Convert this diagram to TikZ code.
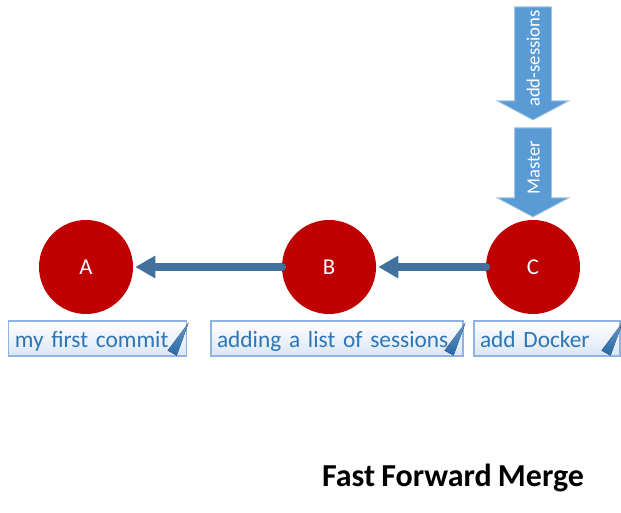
\documentclass[tikz,border=0pt]{standalone}
\usepackage{fontspec}
\setmainfont[WordSpace=0.85]{Carlito}
\usetikzlibrary{shapes.arrows, arrows.meta, positioning, calc}
\definecolor{commitred}{HTML}{C00000}
\definecolor{linkblue}{HTML}{41719C}
\definecolor{tagblue}{HTML}{5B9BD5}
\definecolor{tagedge}{HTML}{9DC3E6}
\definecolor{notetext}{HTML}{2E75B6}
\definecolor{noteedge}{HTML}{8EB4E3}
\definecolor{notefill}{HTML}{DAE6F4}

\begin{document}
\begin{tikzpicture}[
    x=0.75pt, y=-0.75pt,
    commit/.style={circle, fill=commitred, text=white, minimum size=70.5pt, inner sep=0pt, font=\fontsize{17}{20}\selectfont},
    link/.style={-{Triangle[length=15pt, width=16pt]}, line width=6.5pt, draw=linkblue, line cap=round, shorten >=1.5pt},
    note/.style={draw=noteedge, line width=0.8pt, top color=white, bottom color=notefill, text=notetext, align=left, minimum height=26.25pt, text height=15pt, text depth=0.8pt, inner xsep=4.5pt, inner ysep=0pt, font=\fontsize{17.5}{20}\selectfont},
    tag/.style={single arrow, shape border rotate=180, rotate=90, fill=tagblue, draw=tagedge, line width=0.6pt, text=white, minimum width=53pt, single arrow head extend=13pt, single arrow tip angle=124, single arrow head indent=0pt, inner xsep=0pt, inner ysep=8.5pt, text height=10pt, text depth=0pt, font=\fontsize{14}{16}\selectfont},
    fold/.style={top color=notetext!75, bottom color=notetext!90!black, draw=none}
]
    \useasboundingbox (0,0) rectangle (621,513);

    % commits
    \node (A) [commit] at (86,267) {A};
    \node (B) [commit] at (329,267) {B};
    \node (C) [commit] at (533,267) {C};

    \draw[link] (B.west) -- (A.east);
    \draw[link] (C.west) -- (B.east);

    % commit messages
    \node (noteA) [note, text width=124pt] at (97.5,338.5) {my first commit};
    \node (noteB) [note, text width=180pt] at (337,338.5) {adding a list of sessions};
    \node (noteC) [note, text width=100.5pt] at (547,338.5) {add Docker};

    \foreach \n in {noteA, noteB, noteC}
        \fill[fold] ($(\n.south east)+(2,-34)$) -- ($(\n.south east)+(-10,-1)$) -- ($(\n.south east)+(-19,-6)$) -- cycle;

    % branch pointers
    \node (feature) [tag, minimum height=84.75pt] at (533,58.5) {add-sessions};
    \node (master) [tag, minimum height=66.75pt] at (533,167.5) {Master};

    \node (title) at (453,478) {\fontsize{24}{26}\selectfont\bfseries Fast Forward Merge};
\end{tikzpicture}
\end{document}
